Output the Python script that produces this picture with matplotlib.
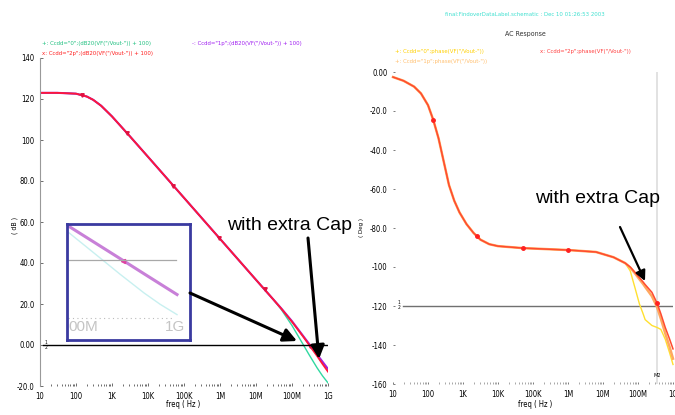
import numpy as np
import matplotlib
matplotlib.use('Agg')
import matplotlib.pyplot as plt

W, H = 675, 415

# ---- left plot: gain (dB) ----
f_gain = [10, 30, 100, 200, 300, 500, 1e3, 3e3, 1e4, 1e5, 1e6, 1e7, 3e7, 5e7, 1e8, 2e8, 3e8, 5e8, 7e8, 1e9]
gain_2p = [123.0, 123.0, 122.6, 121.2, 119.6, 116.7, 111.5, 102.2, 91.8, 71.8, 51.8, 31.8, 22.3, 17.8, 11.3, 4.3, 0.0, -5.4, -9.2, -13.0]
gain_1p = [123.0, 123.0, 122.6, 121.2, 119.6, 116.7, 111.5, 102.2, 91.8, 71.8, 51.8, 31.8, 22.3, 17.9, 11.6, 4.6, 0.5, -4.7, -8.1, -11.7]
gain_0 = [123.0, 123.0, 122.6, 121.2, 119.6, 116.7, 111.5, 102.2, 91.8, 71.8, 51.8, 31.8, 22.3, 17.4, 9.5, 0.5, -4.8, -11.2, -15.0, -18.5]
mk_gain_f = [147, 2.6e3, 4.9e4, 9.3e5, 1.8e7, 3.2e8]
mk_gain = [122.0, 103.4, 77.6, 52.2, 27.3, -0.5]

# ---- right plot: phase (deg) ----
f_ph = [10, 20, 40, 63, 100, 141, 200, 282, 398, 562, 794, 1259, 1995, 3162, 5623, 1e4, 5e4, 1e6, 6.3e6, 2e7, 4.3e7,
        6e7, 8e7, 1.1e8, 1.4e8, 1.6e8, 2.5e8, 3.5e8, 4.5e8, 6e8, 8e8, 1e9]
ph_2p = [-2.6, -4.5, -7.5, -11.0, -17.0, -24.5, -34.0, -46.0, -58.0, -66.0, -72.0, -78.0, -82.5, -86.0, -88.3, -89.3, -90.3,
         -91.3, -92.3, -95.0, -98.0,
         -100.0, -102.5, -105.5, -107.7, -109.0, -113.0, -118.5, -124.0, -131.0, -137.0, -142.0]
ph_1p = [-2.6, -4.5, -7.5, -11.0, -17.0, -24.5, -34.0, -46.0, -58.0, -66.0, -72.0, -78.0, -82.5, -86.0, -88.3, -89.3, -90.3,
         -91.3, -92.3, -95.0, -98.0,
         -100.3, -103.0, -106.3, -108.7, -110.2, -115.0, -120.5, -126.5, -134.0, -141.0, -147.0]
ph_0 = [-2.6, -4.5, -7.5, -11.0, -17.0, -24.5, -34.0, -46.0, -58.0, -66.0, -72.0, -78.0, -82.5, -86.0, -88.3, -89.3, -90.3,
        -91.3, -92.3, -95.0, -98.0,
        -102.0, -110.0, -119.0, -124.0, -127.0, -130.0, -131.0, -132.0, -137.0, -144.0, -150.0]
mk_ph_f = [141, 2.5e3, 5.2e4, 1e6, 3.5e8]
mk_ph = [-24.5, -84.3, -90.3, -91.3, -118.5]

freq_ticks = [10, 100, 1e3, 1e4, 1e5, 1e6, 1e7, 1e8, 1e9]
freq_labels = ['10', '100', '1K', '10K', '100K', '1M', '10M', '100M', '1G']
gain_ticks = [-20, 0, 20, 40, 60, 80, 100, 120, 140]
gain_labels = ['-20.0', '0.00', '20.0', '40.0', '60.0', '80.0', '100', '120', '140']
ph_ticks = [-160, -140, -120, -100, -80, -60, -40, -20, 0]
ph_labels = ['-160', '-140', '-120', '-100', '-80.0', '-60.0', '-40.0', '-20.0', '0.00']

small = dict(family='DejaVu Sans', fontstretch='condensed')


def px_rect(x0, y0, x1, y1):
    return [x0 / W, 1 - y1 / H, (x1 - x0) / W, (y1 - y0) / H]


def fx(x):
    return x / W


def fy(y):
    return 1 - y / H


fig = plt.figure(figsize=(W / 100, H / 100), dpi=100)
fig.patch.set_facecolor('white')

# ================= left: gain =================
ax1 = fig.add_axes(px_rect(40, 58, 328, 386))
ax1.set_xscale('log')
ax1.set_xlim(10, 1e9)
ax1.set_ylim(-20, 140)
ax1.plot(f_gain, gain_0, color='#30d8a0', lw=1.0)
ax1.plot(f_gain, gain_1p, color='#a020e0', lw=1.5)
ax1.plot(f_gain, gain_2p, color='#ff1838', lw=1.3)
ax1.plot(mk_gain_f, mk_gain, ls='none', marker='v', ms=2.5, color='#e01040')
ax1.axhline(0, xmin=0.01, color='black', lw=1.0)
ax1.set_xticks(freq_ticks)
ax1.set_xticklabels(freq_labels)
ax1.set_yticks(gain_ticks)
ax1.set_yticklabels(gain_labels)
for s in ['top', 'right', 'bottom']:
    ax1.spines[s].set_visible(False)
ax1.spines['left'].set_color('#999999')
ax1.spines['left'].set_linewidth(0.8)
ax1.tick_params(which='both', direction='in', length=2, width=0.6, color='#555555',
                labelsize=5.5, pad=4)
ax1.tick_params(which='minor', length=1.5)
for lab in ax1.get_xticklabels() + ax1.get_yticklabels():
    lab.set_fontstretch('condensed')

fig.text(fx(15), fy(225), '( dB )', rotation=90, fontsize=5, ha='center', va='center', **small)
fig.text(fx(183), fy(404), 'freq ( Hz )', fontsize=5.5, ha='center', va='center', **small)
fig.text(fx(46), fy(345), '1\n2', fontsize=3.5, ha='center', va='center', linespacing=0.8, **small)

fig.text(fx(42), fy(43), '+: Ccdd="0";(dB20(VF("/Vout-")) + 100)', color='#20c080',
         fontsize=4.3, va='center', **small)
fig.text(fx(42), fy(54), 'x: Ccdd="2p";(dB20(VF("/Vout-")) + 100)', color='#ff2020',
         fontsize=4.3, va='center', **small)
fig.text(fx(192), fy(43), '-: Ccdd="1p";(dB20(VF("/Vout-")) + 100)', color='#a020f0',
         fontsize=4.3, va='center', **small)

# inset (zoom near 1G)
ins = fig.add_axes(px_rect(67, 224, 190, 340))
ins.set_xscale('log')
ins.set_xlim(10 ** 7.991, 10 ** 9.119)
ins.set_ylim(-27.1, 12.2)
ins.plot(f_gain, gain_0, color='#c8f0f0', lw=1.0)
ins.plot(f_gain, gain_1p, color='#c880d8', lw=2.2)
ins.plot(mk_gain_f, mk_gain, ls='none', marker='<', ms=3, color='#e040a0')
ins.axhline(0, xmin=0.01, xmax=0.89, color='#a8a8a8', lw=0.9)
ins.axhline(-19.7, xmin=0.01, xmax=0.85, color='#bbbbbb', lw=0.8, ls=(0, (1, 3)))
ins.set_xticks([])
ins.set_yticks([])
ins.minorticks_off()
for s in ins.spines.values():
    s.set_color('#3a3aa0')
    s.set_linewidth(2.0)
ins.text(0.01, 0.11, '00M', transform=ins.transAxes, color='#c4c4c4', fontsize=11,
         family='Liberation Sans', va='center', ha='left')
ins.text(0.96, 0.11, '1G', transform=ins.transAxes, color='#c4c4c4', fontsize=11,
         family='Liberation Sans', va='center', ha='right')

# ================= right: phase =================
ax2 = fig.add_axes(px_rect(393, 72, 673, 384))
ax2.set_xscale('log')
ax2.set_xlim(10, 1e9)
ax2.set_ylim(-160, 0)
ax2.axvline(3.5e8, color='#dddddd', lw=1.2)
ax2.axhline(-120, xmin=0.035, color='#707070', lw=1.0)
ax2.plot(f_ph, ph_0, color='#ffe030', lw=1.0, clip_on=False)
ax2.plot(f_ph, ph_1p, color='#ffa860', lw=1.8, clip_on=False)
ax2.plot(f_ph, ph_2p, color='#ff4a30', lw=1.1, clip_on=False)
ax2.plot(mk_ph_f, mk_ph, ls='none', marker='o', ms=2.5, color='#ff2020')
ax2.set_xticks(freq_ticks)
ax2.set_xticklabels(freq_labels)
ax2.set_yticks(ph_ticks)
ax2.set_yticklabels(ph_labels)
for s in ax2.spines.values():
    s.set_visible(False)
ax2.tick_params(which='both', direction='in', length=1.5, width=0.6, color='#666666',
                labelsize=5.5, pad=4)
ax2.tick_params(which='minor', length=1.2, color='#999999')
for lab in ax2.get_xticklabels() + ax2.get_yticklabels():
    lab.set_fontstretch('condensed')

fig.text(fx(362), fy(227), '( Deg )', rotation=90, fontsize=4.5, ha='center', va='center', **small)
fig.text(fx(535), fy(404), 'freq ( Hz )', fontsize=5.5, ha='center', va='center', **small)
fig.text(fx(399), fy(305), '1\n2', fontsize=3.5, ha='center', va='center', linespacing=0.8, **small)
fig.text(fx(657), fy(375), 'M2', fontsize=4, ha='center', va='center', **small)

fig.text(fx(525), fy(14), 'final:FindoverDataLabel.schematic : Dec 10 01:26:53 2003', color='#40e0d0',
         fontsize=4.3, ha='center', va='center', **small)
fig.text(fx(525), fy(34), 'AC Response', color='#333333', fontsize=5, ha='center', va='center', **small)
fig.text(fx(395), fy(52), '+: Ccdd="0";phase(VF("/Vout-"))', color='#ffd000',
         fontsize=4.3, va='center', **small)
fig.text(fx(395), fy(62), '+: Ccdd="1p";phase(VF("/Vout-"))', color='#ffc070',
         fontsize=4.3, va='center', **small)
fig.text(fx(540), fy(52), 'x: Ccdd="2p";phase(VF("/Vout-"))', color='#ff4040',
         fontsize=4.3, va='center', **small)

# ================= annotations =================
fig.text(fx(227), fy(225), 'with extra Cap', fontsize=14, family='Liberation Sans',
         ha='left', va='center')
fig.text(fx(535), fy(198), 'with extra Cap', fontsize=14, family='Liberation Sans',
         ha='left', va='center')

arrow_l = dict(arrowstyle='-|>', lw=2.2, color='black', mutation_scale=20, shrinkA=0, shrinkB=0)
arrow_r = dict(arrowstyle='-|>', lw=1.6, color='black', mutation_scale=15, shrinkA=0, shrinkB=0)
fig.add_artist(matplotlib.patches.FancyArrowPatch((fx(190), fy(293)), (fx(297), fy(341)),
                                                  transform=fig.transFigure, **arrow_l))
fig.add_artist(matplotlib.patches.FancyArrowPatch((fx(308), fy(238)), (fx(319), fy(359)),
                                                  transform=fig.transFigure, **arrow_l))
fig.add_artist(matplotlib.patches.FancyArrowPatch((fx(620), fy(227)), (fx(645), fy(281)),
                                                  transform=fig.transFigure, **arrow_r))

plt.savefig('out.png', dpi=100)
